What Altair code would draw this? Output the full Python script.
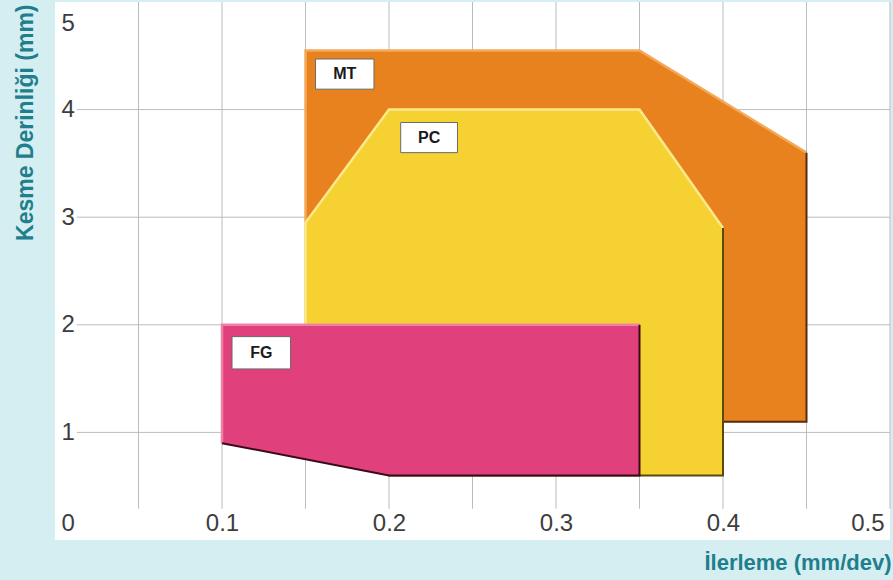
import altair as alt
import pandas as pd

# --- Operating windows (feed mm/dev vs. depth of cut mm) ---
# MT grade
mt_x = [0.15, 0.35, 0.45]
mt_top = [4.55, 4.55, 3.6]
mt_bottom = [1.1, 1.1, 1.1]

# PC grade
pc_x = [0.15, 0.20, 0.35, 0.40]
pc_top = [2.95, 4.0, 4.0, 2.9]
pc_bottom = [2.0, 0.6, 0.6, 0.6]

# FG grade
fg_x = [0.10, 0.20, 0.35]
fg_top = [2.0, 2.0, 2.0]
fg_bottom = [0.9, 0.6, 0.6]

# Label boxes: name, x-range, y-range
label_names = ["MT", "PC", "FG"]
label_x0 = [0.156, 0.207, 0.106]
label_x1 = [0.191, 0.241, 0.141]
label_y0 = [4.19, 3.60, 1.59]
label_y1 = [4.47, 3.88, 1.89]

# Axis ticks and grid
x_ticks = [0, 0.1, 0.2, 0.3, 0.4, 0.5]
y_ticks = [1, 2, 3, 4, 5]
x_grid = [0.05, 0.10, 0.15, 0.20, 0.25, 0.30, 0.35, 0.40, 0.45, 0.50]
y_grid = [1, 2, 3, 4]
grid_y_start = 0.29   # vertical grid stops above the x tick labels
grid_x_start = 0.013  # horizontal grid starts right of the y tick labels

FONT = "Liberation Sans"
TEAL = "#1f7f8c"

xs = alt.Scale(domain=[0, 0.5], nice=False, zero=False)
ys = alt.Scale(domain=[0, 5], nice=False, zero=False)

x_axis = alt.Axis(
    values=x_ticks,
    format=".1~f",
    grid=False,
    domain=False,
    ticks=False,
    labelPadding=-17,
    labelBaseline="middle",
    labelFlush=True,
    labelFlushOffset=-6,
    labelFont=FONT,
    labelFontSize=24,
    labelColor="#3d3d3d",
    title="İlerleme (mm/dev)",
    titleFont=FONT,
    titleFontSize=22,
    titleFontWeight="bold",
    titleColor=TEAL,
    titleAlign="right",
    titleBaseline="middle",
    titleX=836,
    titleY=22,
)
y_axis = alt.Axis(
    values=y_ticks,
    format="d",
    grid=False,
    domain=False,
    ticks=False,
    labelPadding=-6,
    labelAlign="left",
    labelFlush=True,
    labelFlushOffset=-9,
    labelFont=FONT,
    labelFontSize=24,
    labelColor="#3d3d3d",
    title="Kesme Derinliği (mm)",
    titleFont=FONT,
    titleFontSize=23,
    titleFontWeight="bold",
    titleColor=TEAL,
    titleAngle=270,
    titleAlign="right",
    titleBaseline="middle",
    titleX=-30,
    titleY=2,
)


def X(field):
    return alt.X(field, type="quantitative", scale=xs, axis=x_axis)


def Y(field):
    return alt.Y(field, type="quantitative", scale=ys, axis=y_axis)


def area(x, top, bottom, color):
    df = pd.DataFrame({"x": x, "top": top, "bottom": bottom})
    return alt.Chart(df).mark_area(color=color, opacity=1).encode(
        x=X("x"),
        y=Y("top"),
        y2=alt.Y2("bottom"),
    )


def edge(x, top, bottom, color, width, which):
    # "shade": bottom edge then right side; "light": left side then top edge
    if which == "shade":
        px = list(x) + [x[-1]]
        py = list(bottom) + [top[-1]]
    else:
        px = [x[0]] + list(x)
        py = [bottom[0]] + list(top)
    df = pd.DataFrame({"x": px, "y": py, "k": list(range(len(px)))})
    return alt.Chart(df).mark_line(color=color, strokeWidth=width).encode(
        x=X("x"),
        y=Y("y"),
        order=alt.Order("k", type="quantitative"),
    )


# Grid lines
vgrid_df = pd.DataFrame({
    "x": x_grid,
    "y0": [grid_y_start] * len(x_grid),
    "y1": [5.0] * len(x_grid),
})
hgrid_df = pd.DataFrame({
    "y": y_grid,
    "x0": [grid_x_start] * len(y_grid),
    "x1": [0.5] * len(y_grid),
})
vgrid = alt.Chart(vgrid_df).mark_rule(color="#b9bdbd", strokeWidth=1).encode(
    x=X("x"), y=Y("y0"), y2=alt.Y2("y1")
)
hgrid = alt.Chart(hgrid_df).mark_rule(color="#b9bdbd", strokeWidth=1).encode(
    y=Y("y"), x=X("x0"), x2=alt.X2("x1")
)

layers = [vgrid, hgrid]

shapes = [
    (mt_x, mt_top, mt_bottom, "#e8821f", "#f4a95a", "#5a2a08"),
    (pc_x, pc_top, pc_bottom, "#f5d232", "#fbe98c", "#5a4a08"),
    (fg_x, fg_top, fg_bottom, "#e0407c", "#ee80a6", "#3a0a18"),
]
for x, top, bottom, fill, light, dark in shapes:
    layers.append(area(x, top, bottom, fill))
    layers.append(edge(x, top, bottom, light, 2.5, "light"))
    layers.append(edge(x, top, bottom, dark, 2, "shade"))

labels_df = pd.DataFrame({
    "name": label_names,
    "x0": label_x0,
    "x1": label_x1,
    "y0": label_y0,
    "y1": label_y1,
})
labels_df["xc"] = (labels_df["x0"] + labels_df["x1"]) / 2
labels_df["yc"] = (labels_df["y0"] + labels_df["y1"]) / 2

boxes = alt.Chart(labels_df).mark_rect(
    fill="white", stroke="#6b6b6b", strokeWidth=1
).encode(
    x=X("x0"), x2=alt.X2("x1"), y=Y("y0"), y2=alt.Y2("y1")
)
texts = alt.Chart(labels_df).mark_text(
    font=FONT, fontSize=16, fontWeight="bold", color="#1a1a1a", baseline="middle"
).encode(
    x=X("xc"), y=Y("yc"), text=alt.Text("name", type="nominal")
)
layers += [boxes, texts]

chart = alt.layer(*layers).properties(
    width=835,
    height=538,
    background="#d5eef2",
    padding={"left": 55, "top": 2, "right": 3, "bottom": 40},
    autosize=alt.AutoSizeParams(type="none"),
).configure_view(
    fill="white", strokeWidth=0
)

chart.save("out.html", embed_options={"renderer": "svg", "actions": False})
